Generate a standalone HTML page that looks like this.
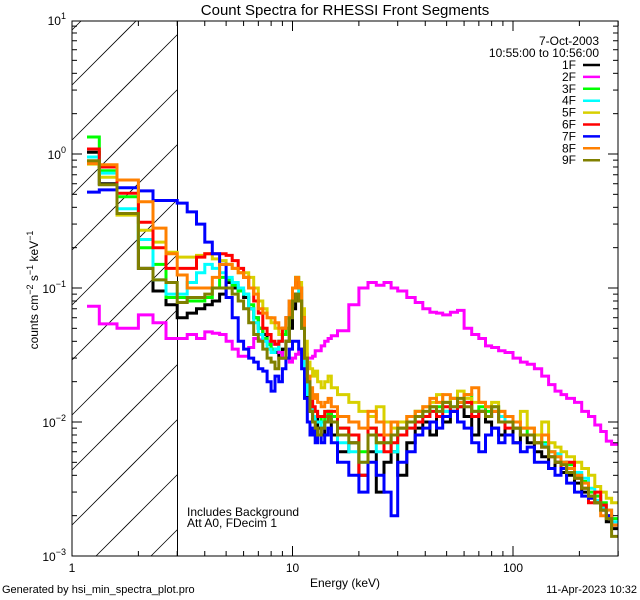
<!DOCTYPE html>
<html><head><meta charset="utf-8">
<style>
html,body{margin:0;padding:0;background:#fff;width:640px;height:600px;overflow:hidden;}
svg{display:block;overflow:hidden;font-family:"Liberation Sans",sans-serif;}
text{font-size:12px;fill:#000;}
</style></head>
<body>
<svg id="chart" width="640" height="600" viewBox="0 0 640 600" xmlns="http://www.w3.org/2000/svg">
<rect x="0" y="0" width="640" height="600" fill="#fff"/>
<defs><clipPath id="pclip"><rect x="72" y="21" width="546" height="535"/></clipPath></defs>
<g id="hatch"></g>
<line x1="177.5" y1="21" x2="177.5" y2="556" stroke="#000" stroke-width="1"/>
<g id="series" clip-path="url(#pclip)"></g>
<rect x="72" y="21" width="546" height="535" fill="none" stroke="#000" stroke-width="1"/>
<g id="axes"></g>
<text x="345" y="15" text-anchor="middle" style="font-size:15px">Count Spectra for RHESSI Front Segments</text>
<text x="345" y="587" text-anchor="middle">Energy (keV)</text>
<text transform="translate(38,290) rotate(-90)" text-anchor="middle">counts cm<tspan dy="-5" style="font-size:9px">−2</tspan><tspan dy="5"> s</tspan><tspan dy="-5" style="font-size:9px">−1</tspan><tspan dy="5"> keV</tspan><tspan dy="-5" style="font-size:9px">−1</tspan></text>
<text x="187" y="516">Includes Background</text>
<text x="187" y="527">Att A0, FDecim 1</text>
<text x="2" y="593" style="font-size:11px">Generated by hsi_min_spectra_plot.pro</text>
<text x="637" y="593" text-anchor="end" style="font-size:11px">11-Apr-2023 10:32</text>
<text x="599" y="45" text-anchor="end">7-Oct-2003</text>
<text x="599" y="57" text-anchor="end">10:55:00 to 10:56:00</text>
<g id="legend"></g>
</svg>
<script>
const edges=[1.17,1.33,1.6,2.0,2.33,2.67,3.0,3.33,3.67,4.0,4.33,4.67,5.0,5.33,5.67,6.0,6.33,6.67,7.0,7.33,7.67,8.0,8.33,8.67,9.0,9.33,9.67,10.0,10.33,10.67,11.0,11.33,11.67,12.0,12.33,12.67,13.0,13.5,14,14.5,15,
16,18,20,22,24,26,28,30,33,36,39,42,45,48,52,56,60,65,70,75,80,86,92,100,108,116,125,135,145,155,165,175,190,205,220,235,250,265,280,300];
const seriesNames=["1F","2F","3F","4F","5F","6F","7F","8F","9F"];
const seriesColors=["#000000","#ff00ff","#00ff00","#00ffff","#d8d000","#ff0000","#0000ff","#ff8000","#808000"];
const s1F=[1.03,0.60,0.36,0.14,0.095,0.075,0.06,0.065,0.07,0.075,0.08,0.09,0.11,0.10,0.095,0.085,0.07,0.06,0.05,0.045,0.038,0.035,0.033,0.03,0.035,0.04,0.05,0.07,0.09,0.08,0.05,0.025,0.015,0.012,0.010,0.011,0.009,0.008,0.010,0.012,
0.008,0.006,0.007,0.004,0.006,0.003,0.005,0.006,0.004,0.007,0.009,0.010,0.008,0.011,0.010,0.012,0.013,0.011,0.008,0.012,0.010,0.009,0.008,0.010,0.007,0.008,0.007,0.006,0.0055,0.0045,0.005,0.0042,0.004,0.0035,0.003,0.0028,0.0025,0.0022,0.0018,0.0016];
const s2F=[0.073,0.054,0.050,0.063,0.055,0.042,0.042,0.045,0.042,0.047,0.046,0.045,0.040,0.035,0.031,0.031,0.036,0.042,0.041,0.040,0.040,0.038,0.038,0.033,0.030,0.030,0.028,0.030,0.032,0.035,0.033,0.032,0.030,0.030,0.031,0.034,0.034,0.037,0.040,0.042,
0.044,0.048,0.075,0.10,0.11,0.105,0.11,0.10,0.095,0.085,0.078,0.07,0.066,0.065,0.063,0.066,0.068,0.05,0.045,0.042,0.037,0.036,0.034,0.033,0.03,0.028,0.027,0.025,0.022,0.019,0.017,0.016,0.015,0.014,0.012,0.011,0.0095,0.0085,0.0072,0.0068];
const s3F=[1.34,0.75,0.48,0.20,0.15,0.085,0.085,0.080,0.080,0.085,0.10,0.12,0.115,0.105,0.095,0.090,0.075,0.06,0.05,0.042,0.038,0.035,0.035,0.04,0.045,0.05,0.07,0.10,0.12,0.10,0.06,0.03,0.018,0.014,0.012,0.012,0.011,0.010,0.011,0.012,
0.011,0.009,0.008,0.006,0.009,0.007,0.008,0.006,0.009,0.010,0.012,0.011,0.013,0.013,0.012,0.015,0.014,0.016,0.012,0.013,0.012,0.013,0.011,0.010,0.009,0.009,0.008,0.008,0.007,0.006,0.0055,0.005,0.0048,0.004,0.0036,0.003,0.0028,0.0025,0.002,0.0019];
const s4F=[0.95,0.72,0.39,0.23,0.115,0.09,0.09,0.11,0.13,0.15,0.14,0.13,0.12,0.11,0.10,0.09,0.07,0.055,0.045,0.04,0.035,0.033,0.035,0.04,0.05,0.06,0.08,0.10,0.11,0.09,0.05,0.025,0.016,0.013,0.011,0.010,0.010,0.009,0.010,0.011,
0.010,0.007,0.006,0.005,0.008,0.006,0.007,0.006,0.008,0.009,0.010,0.011,0.012,0.012,0.012,0.013,0.013,0.014,0.012,0.012,0.011,0.012,0.011,0.010,0.009,0.008,0.008,0.007,0.0068,0.006,0.0058,0.005,0.0045,0.0042,0.0038,0.0032,0.0026,0.0023,0.0022,0.0018];
const s5F=[0.84,0.67,0.35,0.27,0.22,0.185,0.17,0.17,0.175,0.18,0.165,0.16,0.15,0.14,0.13,0.13,0.12,0.10,0.08,0.07,0.06,0.055,0.05,0.045,0.05,0.06,0.08,0.10,0.11,0.11,0.07,0.04,0.028,0.025,0.022,0.024,0.02,0.018,0.02,0.022,
0.018,0.016,0.014,0.012,0.011,0.013,0.010,0.009,0.010,0.011,0.012,0.013,0.014,0.016,0.014,0.015,0.017,0.015,0.014,0.014,0.013,0.014,0.012,0.011,0.010,0.012,0.009,0.008,0.010,0.007,0.0065,0.006,0.0055,0.005,0.0045,0.004,0.0033,0.003,0.0027,0.0025];
const s6F=[1.09,0.80,0.51,0.31,0.20,0.14,0.14,0.14,0.17,0.18,0.18,0.18,0.175,0.16,0.14,0.12,0.10,0.08,0.065,0.05,0.045,0.04,0.038,0.04,0.05,0.06,0.08,0.10,0.11,0.10,0.06,0.03,0.02,0.015,0.013,0.012,0.011,0.011,0.012,0.012,
0.012,0.009,0.008,0.004,0.009,0.008,0.006,0.007,0.008,0.009,0.010,0.011,0.012,0.011,0.013,0.012,0.013,0.014,0.011,0.012,0.011,0.012,0.010,0.009,0.009,0.008,0.008,0.007,0.0065,0.0055,0.005,0.0045,0.005,0.0038,0.0032,0.0025,0.003,0.0024,0.002,0.0017];
const s7F=[0.52,0.54,0.56,0.53,0.45,0.45,0.43,0.37,0.30,0.22,0.18,0.15,0.085,0.06,0.04,0.035,0.03,0.028,0.025,0.024,0.02,0.017,0.022,0.02,0.025,0.03,0.035,0.04,0.04,0.035,0.025,0.015,0.01,0.008,0.009,0.007,0.008,0.007,0.008,0.009,
0.007,0.005,0.004,0.003,0.005,0.004,0.003,0.002,0.005,0.006,0.008,0.009,0.010,0.009,0.011,0.012,0.010,0.009,0.007,0.006,0.008,0.009,0.007,0.008,0.007,0.006,0.0065,0.005,0.005,0.0045,0.004,0.0045,0.0035,0.003,0.0028,0.0027,0.0025,0.0022,0.002,0.0017];
const s8F=[0.85,0.83,0.64,0.44,0.28,0.18,0.125,0.10,0.10,0.10,0.12,0.15,0.15,0.14,0.13,0.12,0.10,0.09,0.07,0.065,0.06,0.06,0.055,0.05,0.05,0.06,0.08,0.10,0.12,0.10,0.06,0.03,0.022,0.018,0.015,0.016,0.014,0.013,0.014,0.015,
0.013,0.011,0.010,0.009,0.012,0.010,0.008,0.010,0.009,0.011,0.012,0.013,0.015,0.014,0.016,0.015,0.014,0.016,0.018,0.014,0.013,0.012,0.012,0.011,0.010,0.009,0.009,0.007,0.008,0.006,0.0055,0.005,0.0045,0.004,0.0035,0.0028,0.0025,0.002,0.0022,0.0017];
const s9F=[0.89,0.59,0.36,0.14,0.115,0.11,0.078,0.085,0.085,0.09,0.10,0.10,0.10,0.09,0.08,0.07,0.055,0.045,0.04,0.035,0.03,0.028,0.025,0.03,0.03,0.04,0.06,0.08,0.09,0.08,0.05,0.03,0.02,0.012,0.01,0.009,0.008,0.009,0.01,0.011,
0.010,0.008,0.007,0.005,0.008,0.007,0.007,0.008,0.009,0.010,0.011,0.012,0.013,0.012,0.014,0.013,0.015,0.013,0.012,0.012,0.011,0.013,0.010,0.010,0.009,0.008,0.008,0.007,0.0065,0.0055,0.005,0.0048,0.0042,0.0038,0.0032,0.0028,0.0025,0.0022,0.0019,0.0014];
const seriesValues=[s1F,s2F,s3F,s4F,s5F,s6F,s7F,s8F,s9F];
const xTickValues=[1,10,100];
const xTickLabels=["1","10","100"];
const yTickExps=[1,0,-1,-2,-3];

const NS="http://www.w3.org/2000/svg";
const X0=72,XD=220.5,Y0=154,YD=134;
function xs(e){return X0+XD*Math.log10(e);}
function ys(v){return Y0-YD*Math.log10(v);}
function mk(tag,attrs,parent){const el=document.createElementNS(NS,tag);for(const k in attrs)el.setAttribute(k,attrs[k]);parent.appendChild(el);return el;}

const hatch=document.getElementById('hatch');
for(let i=-2;i<13;i++){
  const yb=85+55*i;
  const xa=Math.max(72,72+(yb-556)), xb=Math.min(177.5,72+(yb-21));
  if(xa>=xb) continue;
  const l=mk('line',{x1:xa,y1:yb-(xa-72),x2:xb,y2:yb-(xb-72),stroke:'#000','stroke-width':0.8},hatch);
  
  
}

const sg=document.getElementById('series');
seriesValues.forEach((vals,si)=>{
  let d='';
  for(let i=0;i<vals.length;i++){
    const xa=xs(edges[i]),xb=xs(edges[i+1]),y=ys(vals[i]);
    d+=(i===0?'M':'L')+xa.toFixed(1)+','+y.toFixed(1)+'L'+xb.toFixed(1)+','+y.toFixed(1);
  }
  const p=mk('path',{d:d,fill:'none',stroke:seriesColors[si],'stroke-width':3,'stroke-linejoin':'miter'},sg);
  
  
});

const ax=document.getElementById('axes');
for(let dec=1;dec<=100;dec*=10){
  for(let m=1;m<=9;m++){
    const e=dec*m; if(e>300)break;
    const x=xs(e); const L=(m===1)?10:5;
    mk('line',{x1:x,y1:556,x2:x,y2:556-L,stroke:'#000'},ax);
    mk('line',{x1:x,y1:21,x2:x,y2:21+L,stroke:'#000'},ax);
  }
}
xTickValues.forEach((v,i)=>{
  const t=mk('text',{x:xs(v),y:572,'text-anchor':'middle'},ax);
  t.textContent=xTickLabels[i];
  
  
});
for(let ex=-3;ex<1;ex++){
  for(let m=1;m<=9;m++){
    const y=ys(m*Math.pow(10,ex)); const L=(m===1)?10:5;
    mk('line',{x1:72,y1:y,x2:72+L,y2:y,stroke:'#000'},ax);
    mk('line',{x1:618,y1:y,x2:618-L,y2:y,stroke:'#000'},ax);
  }
}
yTickExps.forEach(ex=>{
  const y=ys(Math.pow(10,ex));
  const t=mk('text',{x:66,y:y+5,'text-anchor':'end'},ax);
  
  
  const a=document.createElementNS(NS,'tspan');a.textContent='10';t.appendChild(a);
  const b=document.createElementNS(NS,'tspan');b.setAttribute('dy','-6');b.setAttribute('style','font-size:9px');b.textContent=(ex<0?'−':'')+Math.abs(ex);t.appendChild(b);
});

const lg=document.getElementById('legend');
seriesNames.forEach((n,i)=>{
  const y=69+11.9*i;
  const t=mk('text',{x:576,y:y,'text-anchor':'end'},lg);
  t.textContent=n;
  
  
  const l=mk('line',{x1:583,y1:y-4,x2:600,y2:y-4,stroke:seriesColors[i],'stroke-width':2.5},lg);
  
  
});
</script>
</body></html>
